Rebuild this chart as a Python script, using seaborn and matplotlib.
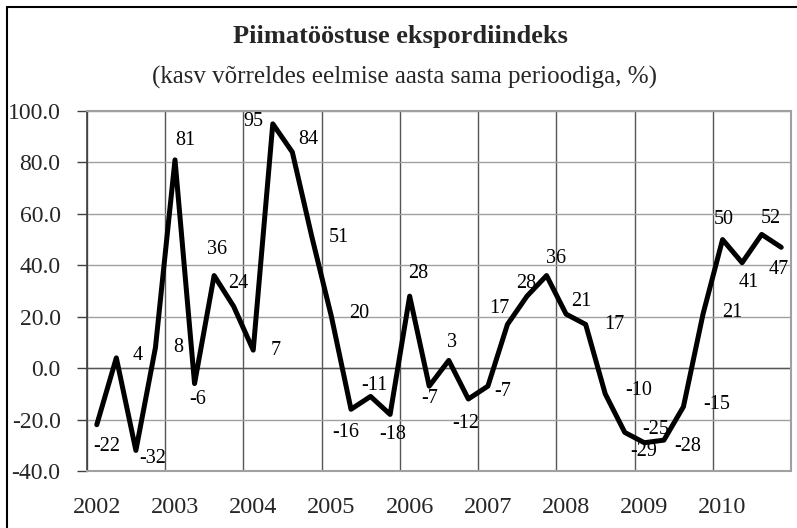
import numpy as np
import pandas as pd
import matplotlib
matplotlib.use("Agg")
import matplotlib.pyplot as plt
import seaborn as sns
from matplotlib.lines import Line2D

# quarterly values, 2002 Q1 .. 2010 Q4
years = ['2002', '2003', '2004', '2005', '2006', '2007', '2008', '2009', '2010']
values = [-22, 4, -32, 8,
          81, -6, 36, 24,
          7, 95, 84, 51,
          20, -16, -11, -18,
          28, -7, 3, -12,
          -7, 17, 28, 36,
          21, 17, -10, -25,
          -29, -28, -15, 21,
          50, 41, 52, 47]
y_ticks = [-40, -20, 0, 20, 40, 60, 80, 100]

# label offsets in pixels (dx, dy down), as placed in the original chart
label_offsets = [(10, 22), (21, -2), (17, 8), (23, 0),
                 (10, -19), (3, 16), (3, -26), (5, -23),
                 (22, 0), (-19, -2), (16, -13), (27, 0),
                 (28, -3), (-5, 23), (4, -11), (3, 20),
                 (9, -23), (0, 12), (3, -18), (-3, 25),
                 (15, 5), (-8, -16), (-1, -13), (10, -17),
                 (15, -13), (29, 0), (33, -3), (31, -3),
                 (-1, 9), (24, 6), (33, -2), (29, -2),
                 (1, -20), (7, 20), (9, -16), (-2, 22)]

df = pd.DataFrame({'pos': np.arange(len(values)) + 0.5, 'value': values})

sns.set_theme(style='white')
plt.rcParams['font.family'] = ['Liberation Serif', 'DejaVu Serif']

W, H = 797, 528
fig = plt.figure(figsize=(W / 100, H / 100), dpi=100)
ax = fig.add_axes([87 / W, (H - 471) / H, (791 - 87) / W, (471 - 111) / H])

sns.lineplot(data=df, x='pos', y='value', ax=ax, color='black', linewidth=3.6)

for (x, v), (dx, dy) in zip(zip(df['pos'], df['value']), label_offsets):
    ax.annotate(str(v), (x, v), xytext=(dx, -dy), textcoords='offset pixels',
                ha='center', va='center', fontsize=14.5, color='black')

ax.set_xlim(0, len(values))
ax.set_ylim(-40, 100)
ax.set_yticks(y_ticks)
ax.set_yticklabels([f'{t:.1f}' for t in y_ticks], fontsize=17)
ax.set_xticks(np.arange(len(years)) * 4 + 0.5)
ax.set_xticklabels(years, fontsize=17.5)
ax.set_xticks(np.arange(0, len(values) + 1, 4), minor=True)
ax.tick_params(axis='x', which='both', length=0, pad=19)
ax.tick_params(axis='y', length=7, width=1, color='#404040', pad=12, left=True)
ax.set_xlabel('')
ax.set_ylabel('')

ax.grid(False)
ax.xaxis.grid(True, which='minor', color='#555555', linewidth=1)
ax.yaxis.grid(True, which='major', color='#a0a0a0', linewidth=1)
ax.axhline(0, color='#555555', linewidth=1, zorder=1)
ax.set_axisbelow(True)

for side in ['top', 'right', 'bottom']:
    ax.spines[side].set_color('#a0a0a0')
    ax.spines[side].set_linewidth(1.5)
ax.spines['left'].set_color('#404040')
ax.spines['left'].set_linewidth(1.2)

fig.text(0.503, 1 - 37 / H, 'Piimatööstuse ekspordiindeks', ha='center', va='center',
         fontsize=19, fontweight='bold')
fig.text(0.507, 1 - 77 / H, '(kasv võrreldes eelmise aasta sama perioodiga, %)',
         ha='center', va='center', fontsize=18)

# outer frame (left and top edges visible)
fig.add_artist(Line2D([7 / W, 7 / W], [0, 1 - 7 / H], color='black', linewidth=1.5))
fig.add_artist(Line2D([7 / W, 1], [1 - 7 / H, 1 - 7 / H], color='black', linewidth=1.5))

fig.savefig('out.png', dpi=100)
